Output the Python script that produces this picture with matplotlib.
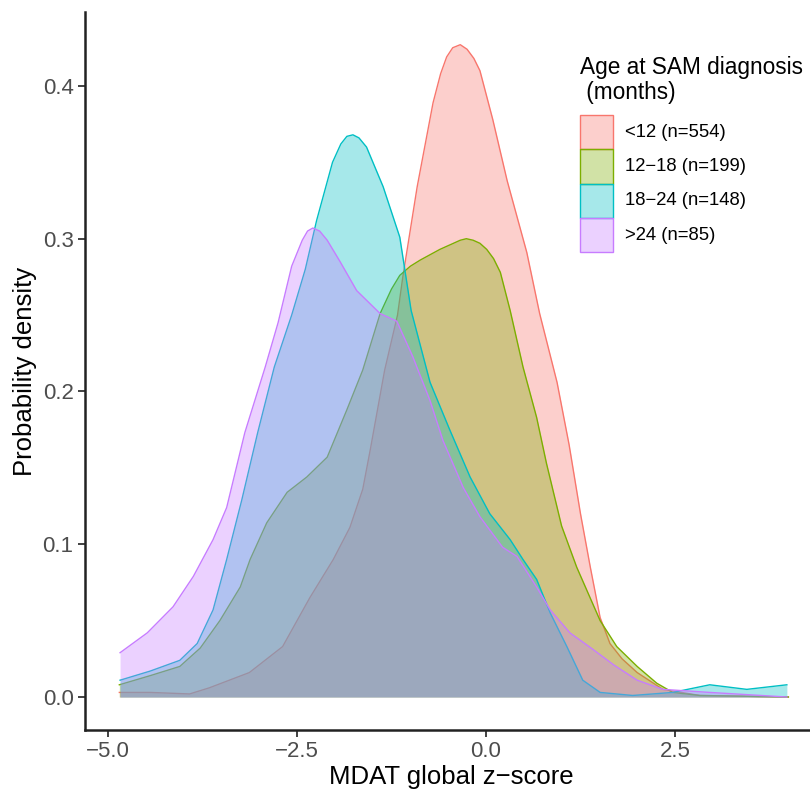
import matplotlib
matplotlib.use("Agg")
import matplotlib.pyplot as plt
from matplotlib.patches import Rectangle

plt.rcParams['font.family'] = ['Liberation Sans', 'DejaVu Sans']

# density curves (x = MDAT z-score, y = density)
x_lt12 = [-4.85, -4.44, -3.92, -3.66, -3.13, -2.69, -2.33, -2.02, -1.80, -1.63, -1.53, -1.34, -1.17, -1.10,
          -0.91, -0.70, -0.60, -0.52, -0.44, -0.34, -0.25, -0.16, -0.08, 0.09, 0.28, 0.54, 0.71, 0.94, 1.10,
          1.25, 1.38, 1.51, 1.64, 1.80, 2.00, 2.34, 2.83, 4.00]
d_lt12 = [0.003, 0.003, 0.002, 0.006, 0.016, 0.033, 0.065, 0.090, 0.111, 0.136, 0.162, 0.214, 0.250, 0.275,
          0.334, 0.389, 0.408, 0.419, 0.425, 0.427, 0.424, 0.418, 0.410, 0.378, 0.338, 0.291, 0.251, 0.206, 0.165,
          0.120, 0.085, 0.052, 0.035, 0.025, 0.016, 0.005, 0.001, 0.000]

x_12_18 = [-4.85, -4.44, -4.05, -3.78, -3.52, -3.25, -3.12, -2.90, -2.63, -2.37, -2.10, -1.84, -1.63, -1.40,
           -1.25, -1.14, -1.00, -0.87, -0.61, -0.34, -0.26, -0.17, -0.08, 0.01, 0.10, 0.19, 0.32, 0.49, 0.67,
           0.80, 1.00, 1.20, 1.51, 1.73, 2.00, 2.26, 2.47, 2.83, 4.00]
d_12_18 = [0.008, 0.014, 0.020, 0.032, 0.050, 0.072, 0.090, 0.114, 0.134, 0.144, 0.157, 0.188, 0.214, 0.251,
           0.267, 0.276, 0.282, 0.286, 0.293, 0.299, 0.300, 0.299, 0.297, 0.293, 0.287, 0.278, 0.253, 0.216, 0.183,
           0.153, 0.112, 0.085, 0.050, 0.033, 0.020, 0.009, 0.003, 0.001, 0.000]

x_18_24 = [-4.84, -4.44, -4.05, -3.82, -3.61, -3.43, -3.23, -3.02, -2.80, -2.57, -2.39, -2.24, -2.03, -1.92,
           -1.84, -1.76, -1.68, -1.58, -1.36, -1.14, -0.99, -0.74, -0.48, -0.21, 0.05, 0.32, 0.49, 0.67, 0.85,
           1.07, 1.28, 1.51, 1.94, 2.47, 2.96, 3.45, 3.98]
d_18_24 = [0.011, 0.017, 0.024, 0.035, 0.057, 0.090, 0.129, 0.173, 0.216, 0.250, 0.280, 0.312, 0.350, 0.362,
           0.367, 0.368, 0.366, 0.360, 0.334, 0.301, 0.253, 0.206, 0.175, 0.144, 0.120, 0.103, 0.090, 0.077, 0.055,
           0.033, 0.011, 0.003, 0.001, 0.003, 0.008, 0.005, 0.008]

x_gt24 = [-4.84, -4.48, -4.14, -3.87, -3.61, -3.43, -3.19, -2.92, -2.75, -2.57, -2.43, -2.36, -2.29, -2.20,
          -2.10, -1.93, -1.71, -1.40, -1.18, -0.97, -0.74, -0.57, -0.30, -0.08, 0.22, 0.41, 0.67, 0.85, 1.11,
          1.42, 1.69, 2.00, 2.34, 2.96, 3.98]
d_gt24 = [0.029, 0.042, 0.059, 0.079, 0.103, 0.124, 0.173, 0.216, 0.245, 0.282, 0.299, 0.305, 0.307, 0.305,
          0.299, 0.285, 0.266, 0.251, 0.246, 0.223, 0.194, 0.168, 0.137, 0.118, 0.098, 0.092, 0.072, 0.057, 0.042,
          0.031, 0.021, 0.011, 0.005, 0.003, 0.000]

labels = ['<12 (n=554)', '12\u221218 (n=199)', '18\u221224 (n=148)', '>24 (n=85)']
colors = ['#F8766D', '#7CAE00', '#00BFC4', '#C77CFF']
xs = [x_lt12, x_12_18, x_18_24, x_gt24]
ds = [d_lt12, d_12_18, d_18_24, d_gt24]

W, H = 810, 792
fig = plt.figure(figsize=(W / 100, H / 100), dpi=100)
# panel spans px 85..810 horizontally and 12..730 vertically
ax = fig.add_axes([85 / W, (H - 730) / H, (W - 85) / W, (730 - 12) / H])

z = 1
for x, d, c in zip(xs, ds, colors):
    ax.fill_between(x, 0, d, color=c, alpha=0.35, lw=0, zorder=z)
    ax.plot(x, d, color=c, lw=1.0, zorder=z + 0.5, solid_joinstyle='round')
    z += 1

ax.set_xlim(-5.304, 4.286)
ax.set_ylim(-0.0216, 0.4484)
ax.set_xticks([-5.0, -2.5, 0.0, 2.5])
ax.set_yticks([0.0, 0.1, 0.2, 0.3, 0.4])

for s in ['top', 'right']:
    ax.spines[s].set_visible(False)
for s in ['left', 'bottom']:
    ax.spines[s].set_linewidth(1.8)
    ax.spines[s].set_color('#222222')

ax.tick_params(length=4.7, width=1.3, color='#333333', labelcolor='#4D4D4D', labelsize=16, pad=3.5)

ax.set_xlabel('MDAT global z\u2212score', fontsize=18.5)
ax.set_ylabel('Probability density', fontsize=18.5)
ax.xaxis.set_label_coords(0.505, -0.0655)
ax.xaxis.label.set_va('center')
ax.yaxis.set_label_coords(-0.0828, 0.5)
ax.yaxis.label.set_va('center')


# legend drawn by hand, in figure pixels
def fx(px):
    return px / W


def fy(py):
    return 1 - py / H


fig.text(fx(580), fy(80), 'Age at SAM diagnosis\n (months)', fontsize=16.3, ha='left', va='center',
         linespacing=1.15)
key_top = 115
key_h = 34.3
for i, (lab, c) in enumerate(zip(labels, colors)):
    top = key_top + i * key_h
    fig.patches.append(Rectangle((fx(580), fy(top + key_h)), 33 / W, key_h / H, transform=fig.transFigure,
                                 facecolor=c, alpha=0.35, edgecolor='none'))
    fig.patches.append(Rectangle((fx(580), fy(top + key_h)), 33 / W, key_h / H, transform=fig.transFigure,
                                 facecolor='none', edgecolor=c, lw=1.0))
    fig.text(fx(625), fy(top + key_h / 2), lab, fontsize=13.3, ha='left', va='center')

fig.savefig('out.png', dpi=100)
